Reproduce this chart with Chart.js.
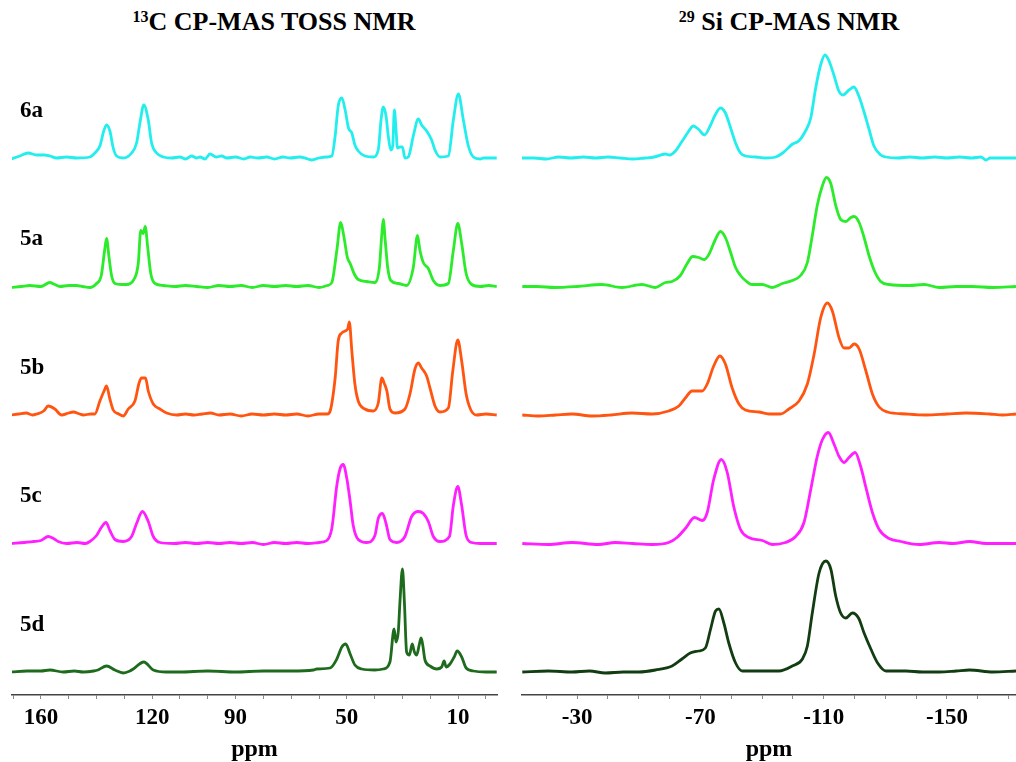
<!DOCTYPE html>
<html>
<head>
<meta charset="utf-8">
<script src="https://cdn.jsdelivr.net/npm/chart.js@4.4.0/dist/chart.umd.min.js"></script>
<style>
  body { margin:0; background:#fff; width:1016px; height:762px; overflow:hidden; position:relative; font-family:"Liberation Serif", "Times New Roman", serif; }
  #cL { position:absolute; left:0; top:0; }
  #cR { position:absolute; left:508px; top:0; }
  .title { position:absolute; top:6px; font-weight:bold; font-size:26px; line-height:32px; white-space:nowrap; transform:translateX(-50%); color:#000; }
  .title sup { font-size:16px; vertical-align:top; line-height:22px; }
</style>
</head>
<body>
<div class="title" style="left:274px"><sup>13</sup>C CP-MAS TOSS NMR</div>
<div class="title" style="left:789px"><sup>29</sup> Si CP-MAS NMR</div>
<canvas id="cL" width="508" height="762"></canvas>
<canvas id="cR" width="508" height="762"></canvas>
<script>
// ---------- data (ppm, intensity) ----------
const samples = ['6a', '5a', '5b', '5c', '5d'];
const cTickLabels = [160, 120, 90, 50, 10];
const siTickLabels = [-30, -70, -110, -150];

const c13_6a = [[170.6,-1],[167.6,2],[164.6,5],[161.5,3],[158.6,3],[156.8,2],[154.4,0],[150.8,1],[147.2,0],[142.4,1],[140.6,5],[138.8,12],[137.3,28],[136.4,33],[135.2,27],[134,10],[132.8,2],[130.4,0],[127.4,5],[125.6,15],[124.4,35],[123,53],[121.4,38],[120.2,15],[118.4,5],[116,1],[113,0],[110,1],[108,-1],[105.8,2],[104,0],[102.8,1],[101,-1],[99.2,4],[97,1],[95,2],[93.2,0],[90,1],[87,-1],[84.8,1],[82,0],[78.8,1],[76,-1],[73,1],[70.4,0],[67,1],[64,-1],[62.6,-2],[60,0],[57.2,1],[55.4,2],[54.2,22],[53.1,52],[51.8,60],[50.6,48],[49.4,30],[48.2,25],[47.1,13],[45.9,7],[43.5,2],[40.5,1],[38.7,8],[37.7,38],[36.9,51],[35.9,42],[35.1,22],[34.2,8],[33.5,12],[32.9,48],[32.3,28],[31.8,10],[30.9,11],[30.0,11],[29.1,0],[27.9,1],[26.1,22],[24.3,39],[23.1,33],[21.3,27],[19.5,18],[18.3,8],[16.5,1],[13.5,2],[11.7,38],[9.9,64],[8.1,38],[6.3,12],[4.5,1],[2,-1],[0.9,0],[-3.9,0]];
const c13_5a = [[170.6,-1],[167,0],[164,1],[160,0],[156.8,4],[155,2],[153.2,0],[150,1],[147.2,1],[145,0],[142.4,-1],[140,3],[138.3,11],[137.1,36],[136.4,48],[135.5,29],[134.6,11],[133.4,3],[131,2],[129.3,2],[126.8,6],[125,23],[124.1,56],[123.2,53],[122.5,60],[121.6,39],[120.5,13],[119,3],[116,1],[112,0],[108,1],[104,0],[100,-1],[96,1],[92,0],[88,1],[84,-1],[80,1],[76,0],[72,1],[68,0],[64,1],[60,-1],[57,1],[55.4,4],[53.6,36],[52.2,64],[51,49],[49.8,29],[48.8,23],[47.4,13],[45.9,7],[42.8,5],[39.9,4],[38.3,19],[37.4,53],[36.9,67],[36.2,46],[35.3,19],[34.2,6],[31.5,3],[28.5,1],[26.1,19],[24.6,51],[23.7,36],[22.5,24],[20.7,18],[18.9,6],[16.5,1],[13.5,3],[11.7,36],[10.1,63],[8.7,43],[7.1,13],[5.1,2],[2,0],[-1,1],[-3.9,0]];
const c13_5b = [[170.6,0],[168,1],[165.3,2],[163,0],[161.5,1],[159,4],[157.4,9],[155,6],[152.6,0],[150,2],[148.4,3],[146,1],[144.8,0],[142,1],[140.6,1],[138.8,14],[137.3,24],[136.4,29],[135.2,16],[134,5],[132,1],[130.4,-1],[128.6,6],[126.2,14],[124.7,32],[123.8,37],[122.4,37],[121.4,24],[119.6,11],[117.2,6],[114.8,2],[111.2,0],[108,1],[105,0],[102,1],[99,2],[96,0],[92,1],[88,-1],[84,1],[80,0],[76,1],[72,0],[68,1],[64,-1],[60,1],[57,1],[56,4],[54.2,37],[53.1,74],[51.8,82],[50.6,84],[49.7,86],[49.1,93],[48.2,64],[47.1,31],[45.9,14],[43.5,6],[40.5,4],[38.7,12],[37.4,37],[36.6,32],[35.6,24],[34.5,6],[32.7,2],[29.1,6],[27.3,21],[25.5,46],[24.3,52],[23.1,47],[21.3,39],[20.1,27],[18.3,9],[16.5,3],[13.5,7],[11.9,44],[10.1,75],[8.7,54],[7.1,21],[5.4,5],[3.3,0],[0,1],[-3.9,0]];
const c13_5c = [[170.6,0],[166,1],[162.8,2],[160,3],[157.4,7],[155.5,5],[153.8,2],[150.8,0],[147,1],[144,0],[142.4,2],[140,8],[138.3,16],[136.6,21],[135.2,13],[133.4,4],[130.4,2],[127.4,7],[125.6,20],[123.5,32],[121.4,22],[119.6,7],[117.2,1],[112,0],[108,1],[104,0],[100,1],[96,0],[92,1],[88,0],[84,1],[80,-1],[76,1],[72,0],[68,1],[64,0],[60,1],[57.2,3],[55.4,15],[53.6,58],[52.4,75],[51.3,79],[50,65],[48.8,42],[47.7,18],[45.9,4],[42.8,1],[39.9,8],[38.7,25],[37.2,30],[35.9,20],[34.5,4],[32.1,1],[29.1,7],[26.7,27],[24.3,32],[22.5,30],[20.7,22],[18.9,7],[16.5,2],[13.1,7],[11.7,38],[10.1,57],[8.7,38],[7.1,8],[5.1,1],[2,0],[-3.9,0]];
const c13_5d = [[170.6,0],[165,1],[160,1],[156.8,2],[152,0],[148,1],[144.8,0],[141,1],[139.5,2],[136.4,6],[133.4,2],[130.4,-1],[128,1],[126.8,3],[123,10],[119.6,2],[114.8,0],[110,0],[100,1],[90,0],[80,1],[70,1],[62,2],[60.8,3],[56,4],[53.6,13],[51.8,25],[50.4,28],[48.8,18],[47.1,7],[44.6,3],[40,2],[36.9,3],[34.5,10],[33.0,43],[32.3,30],[31.5,40],[30.9,70],[30.0,103],[29.3,70],[28.5,20],[27.5,17],[26.5,28],[25.7,20],[24.9,17],[23.9,28],[23.3,34],[22.7,27],[21.9,12],[20.1,6],[17.7,3],[15.9,5],[15,11],[14.3,5],[12.9,8],[11.4,15],[10.3,21],[8.7,15],[7.1,4],[4.5,1],[0,0],[-3.9,0]];

const si_6a = [[-12.1,0],[-16,0],[-20,-1],[-24,1],[-28,0],[-32,1],[-36,0],[-40,1],[-44,0],[-48,-1],[-52,0],[-55,1],[-58.6,4],[-60,3],[-61.9,7],[-64.1,17],[-65.8,25],[-67.7,32],[-69.3,29],[-71.3,23],[-73.3,33],[-74.6,42],[-76.5,50],[-78.1,45],[-79.8,30],[-81.4,15],[-83.0,5],[-84.6,2],[-88,1],[-91,0],[-94.4,1],[-96.7,5],[-99.9,14],[-101.9,17],[-104.1,27],[-105.8,40],[-107.4,70],[-109.0,93],[-110.4,103],[-111.6,98],[-113.3,83],[-114.9,67],[-116.2,63],[-118.2,68],[-119.8,71],[-121.4,62],[-123.0,47],[-124.6,30],[-126.3,12],[-128.5,3],[-130.2,1],[-134,0],[-138,1],[-142,0],[-146,1],[-150,0],[-154,1],[-158,0],[-161,1],[-162.7,-2],[-164,0],[-168,0],[-172.4,0]];
const si_5a = [[-12.2,0],[-17,0],[-22.8,-1],[-30,0],[-38.0,2],[-44.5,-1],[-51.0,2],[-55.4,-1],[-58.6,4],[-60.8,5],[-63.5,11],[-65.7,23],[-67.5,30],[-69.4,29],[-71.3,27],[-72.9,33],[-74.7,46],[-76.5,55],[-78.1,49],[-79.8,34],[-81.4,19],[-83.0,11],[-84.6,6],[-86.8,2],[-90.1,2],[-93.3,-1],[-96.6,3],[-99.8,6],[-102.5,11],[-104.7,24],[-106.3,51],[-107.9,81],[-109.6,101],[-110.9,109],[-112.3,103],[-113.9,81],[-115.5,67],[-117.2,65],[-118.8,69],[-119.9,70],[-121.5,64],[-123.1,49],[-124.7,31],[-126.4,16],[-128.5,5],[-131.2,2],[-137.7,1],[-142.6,2],[-147.5,-1],[-153,0],[-158.3,0],[-164.9,-1],[-172.4,0]];
const si_5b = [[-12.2,0],[-17.4,-1],[-23,0],[-28.3,1],[-34.8,-1],[-41,0],[-47.8,2],[-54.3,1],[-59.7,4],[-63.0,9],[-65.1,17],[-67.3,24],[-70.6,24],[-72.2,31],[-74.3,49],[-76.3,59],[-78.1,51],[-80.3,27],[-82.5,11],[-84.6,5],[-89.0,3],[-92.2,1],[-96.0,1],[-98.7,6],[-102.0,14],[-104.7,31],[-106.9,61],[-109.0,97],[-111.2,112],[-112.8,104],[-115.0,77],[-116.6,67],[-118.2,67],[-119.9,71],[-121.5,66],[-123.7,44],[-125.8,21],[-128.0,8],[-130.7,3],[-136.7,1],[-143.2,0],[-150,1],[-156.2,2],[-163.8,1],[-168,0],[-172.4,1]];
const si_5c = [[-12.2,0],[-20.7,-1],[-28.3,1],[-36.9,-1],[-42.4,1],[-48,0],[-54.3,-1],[-59.7,1],[-62.4,6],[-65.1,15],[-68.1,26],[-70.6,23],[-72.2,31],[-74.3,64],[-76.8,84],[-78.7,71],[-80.8,37],[-83.0,14],[-85.7,6],[-90.1,3],[-93.3,-1],[-97.6,1],[-100.9,7],[-103.6,21],[-105.8,54],[-107.9,87],[-109.6,104],[-111.5,111],[-113.4,99],[-115.0,87],[-116.6,81],[-118.2,86],[-120.2,91],[-122.0,77],[-123.7,56],[-125.8,31],[-128.0,14],[-131.2,5],[-135.0,2],[-141.0,-1],[-147.5,1],[-152,0],[-157.3,2],[-162.7,0],[-168,0],[-172.4,0]];
const si_5d = [[-12.2,0],[-20.7,1],[-28.3,0],[-34,1],[-39.1,-1],[-45,0],[-50.0,0],[-55.4,2],[-60.8,6],[-64.0,13],[-66.7,19],[-69.4,21],[-71.6,24],[-73.3,43],[-74.9,61],[-76.0,63],[-77.6,49],[-79.2,29],[-81.4,9],[-83.6,1],[-90.1,1],[-95.5,1],[-99.8,6],[-103.1,13],[-104.7,26],[-106.3,59],[-108.5,99],[-110.7,111],[-112.3,103],[-113.9,76],[-115.5,59],[-117.2,54],[-119.3,59],[-121.3,54],[-123.1,39],[-125.3,23],[-127.5,9],[-130.2,1],[-136.7,1],[-142,0],[-147.5,0],[-153,1],[-157.3,2],[-164.9,0],[-172.4,1]];

const c13Traces = [c13_6a, c13_5a, c13_5b, c13_5c, c13_5d];
const siTraces = [si_6a, si_5a, si_5b, si_5c, si_5d];

// ---------- styles / layout ----------
const colorsL = ['#22EEEE', '#2BEB2B', '#FF5511', '#FF1FFF', '#1E6B1E'];
const colorsR = ['#22EEEE', '#2BEB2B', '#FF5511', '#FF1FFF', '#123D12'];
const BASE = 23, STEP = 128.5;
const offsetOf = i => BASE + (samples.length - 1 - i) * STEP;
const FONT = 'Liberation Serif';

function buildDatasets(traces, colors) {
  return traces.map((tr, i) => ({
    label: samples[i],
    data: tr.map(([x, y]) => ({ x: x, y: y + offsetOf(i) })),
    borderColor: colors[i],
    borderWidth: 2.8,
    pointRadius: 0,
    fill: false,
    cubicInterpolationMode: 'monotone'
  }));
}

const sampleLabelPlugin = {
  id: 'sampleLabels',
  afterDatasetsDraw(chart) {
    const ctx = chart.ctx;
    const y = chart.scales.y;
    ctx.save();
    ctx.fillStyle = '#000';
    ctx.font = 'bold 23px "' + FONT + '"';
    ctx.textBaseline = 'middle';
    ctx.textAlign = 'left';
    samples.forEach((s, i) => {
      ctx.fillText(s, 20, y.getPixelForValue(offsetOf(i) + 47));
    });
    ctx.restore();
  }
};

function makeChart(id, traces, colors, min, max, labelTicks, pad, plugins) {
  return new Chart(document.getElementById(id), {
    type: 'line',
    data: { datasets: buildDatasets(traces, colors) },
    plugins: plugins,
    options: {
      responsive: false,
      animation: false,
      events: [],
      layout: { padding: pad },
      plugins: { legend: { display: false }, tooltip: { enabled: false }, title: { display: false } },
      scales: {
        x: {
          type: 'linear', reverse: true, min: min, max: max,
          afterFit: s => { s.height = 67; },
          ticks: {
            stepSize: 10, autoSkip: false, maxRotation: 0, includeBounds: false, padding: 5,
            color: '#000', font: { family: FONT, weight: 'bold', size: 23 },
            callback: v => labelTicks.includes(Math.round(v)) ? String(Math.round(v)) : ''
          },
          grid: { display: true, drawOnChartArea: false, drawTicks: true, tickLength: 4, color: '#888', lineWidth: 1 },
          border: { display: true, color: '#444', width: 1.5 },
          title: { display: true, text: 'ppm', color: '#000', font: { family: FONT, weight: 'bold', size: 24, lineHeight: 1.0 }, padding: { top: 0, bottom: 0 } }
        },
        y: { display: false, min: 0, max: 650 }
      }
    }
  });
}

makeChart('cL', c13Traces, colorsL, -4, 170.4, cTickLabels, { top: 45, left: 12, right: 11, bottom: 0 }, [sampleLabelPlugin]);
makeChart('cR', siTraces, colorsR, -172.4, -12.1, siTickLabels, { top: 45, left: 14, right: 0, bottom: 0 }, []);
</script>
</body>
</html>
